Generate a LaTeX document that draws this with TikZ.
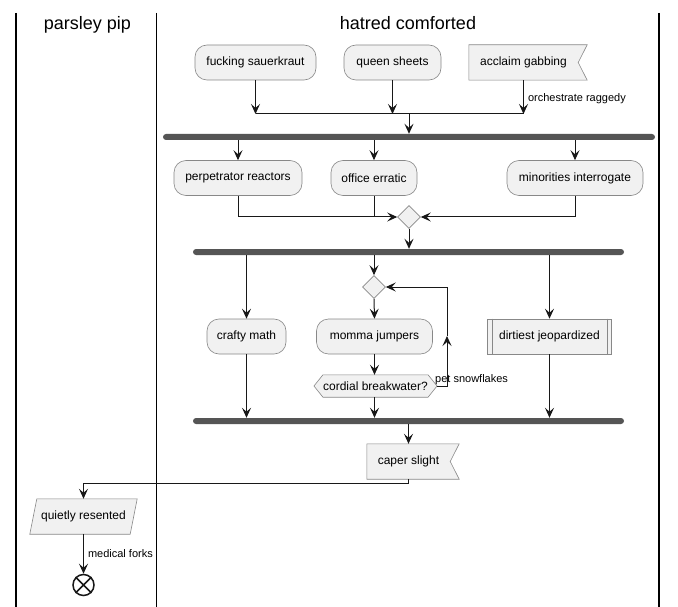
\documentclass[tikz,border=0pt]{standalone}
\usepackage{fontspec}
\setmainfont{Liberation Sans}
\usetikzlibrary{arrows.meta, shapes.geometric, backgrounds}
\definecolor{boxfill}{HTML}{F1F1F1}
\definecolor{boxline}{HTML}{888888}
\definecolor{wire}{HTML}{181818}
\definecolor{barfill}{HTML}{555555}
\tikzset{>={Stealth[length=10pt, width=9pt, inset=4pt]}}

\begin{document}
\begin{tikzpicture}[x = 1pt, y = -1pt,
    act/.style = {draw = boxline, fill = boxfill, line width = .6pt, rounded corners = 12pt, minimum height = 35pt, inner sep = 0pt, font = \fontsize{12}{14}\selectfont},
    sub/.style = {act, sharp corners},
    sig/.style = {minimum height = 35pt, inner sep = 0pt, font = \fontsize{12}{14}\selectfont},
    outline/.style = {draw = boxline, fill = boxfill, line width = .6pt},
    bar/.style = {fill = barfill, rounded corners = 3pt, minimum height = 6pt, inner sep = 0pt},
    merge/.style = {diamond, draw = boxline, fill = boxfill, line width = .6pt, minimum size = 23pt, inner sep = 0pt},
    lbl/.style = {anchor = west, inner sep = 0pt, font = \fontsize{11}{13}\selectfont},
    flow/.style = {draw = wire, line width = 1pt},
    lane/.style = {draw = black, line width = 1.5pt},
    title/.style = {anchor = base, inner sep = 0pt, font = \fontsize{18}{21}\selectfont},
]
    \useasboundingbox (0,0) rectangle (678,607);

    % swimlanes
    \draw[lane] (16,13) -- (16,607);
    \draw[lane] (156.5,13) -- (156.5,607);
    \draw[lane] (659,13) -- (659,607);
    \node[title] (lanepp) at (87.5,30) {parsley pip};
    \node[title] (lanehc) at (408,30) {hatred comforted};

    % first row
    \node[act, minimum width = 121pt] (fs) at (255.5,62.5) {fucking sauerkraut};
    \node[act, minimum width = 97pt] (qs) at (392.5,62.5) {queen sheets};
    \node[sig, minimum width = 109pt] (ag) at (523.5,62.5) {acclaim gabbing};
    \node[bar, minimum width = 492pt] (bar1) at (409,137) {};

    % second row
    \node[act, minimum width = 128pt] (pr) at (238,178) {perpetrator reactors};
    \node[act, minimum width = 86pt] (oe) at (374,178) {office erratic};
    \node[act, minimum width = 136pt] (mi) at (575,178) {minorities interrogate};
    \node[merge] (d1) at (409,217) {};
    \node[bar, minimum width = 431pt] (bar2) at (408.5,252) {};

    % third row
    \node[act, minimum width = 79pt] (cm) at (246.5,336.5) {crafty math};
    \node[merge] (d2) at (374,287) {};
    \node[act, minimum width = 116pt] (mj) at (374.5,336.5) {momma jumpers};
    \node[sig, minimum height = 22pt, minimum width = 104pt] (cb) at (375.5,386) {cordial breakwater?};
    \node[sub, minimum width = 124pt] (dj) at (549.5,336.5) {dirtiest jeopardized};
    \draw[boxline, line width = .6pt] ([xshift = 5pt]dj.north west) -- ([xshift = 5pt]dj.south west);
    \draw[boxline, line width = .6pt] ([xshift = -5pt]dj.north east) -- ([xshift = -5pt]dj.south east);
    \node[bar, minimum width = 431pt] (bar3) at (408.5,421) {};

    % last steps
    \node[sig, minimum width = 83pt] (cs) at (408.5,461.5) {caper slight};
    \node[sig, minimum width = 100pt] (qr) at (83.5,516.5) {quietly resented};
    \node[circle, draw = wire, line width = 1.5pt, minimum size = 21pt, inner sep = 0pt] (stop) at (83.5,585) {};
    \draw[wire, line width = 1.5pt] (stop.north west) -- (stop.south east) (stop.north east) -- (stop.south west);

    % shapes behind the texts
    \begin{scope}[on background layer]
        \fill[white] (0,0) rectangle (678,607);
        \draw[outline] (ag.north west) -- ([xshift = 9pt]ag.north east) -- (ag.east) -- ([xshift = 9pt]ag.south east) -- (ag.south west) -- cycle;
        \draw[outline] (cs.north west) -- ([xshift = 9pt]cs.north east) -- (cs.east) -- ([xshift = 9pt]cs.south east) -- (cs.south west) -- cycle;
        \draw[outline] ([xshift = -9pt]cb.west) -- (cb.north west) -- (cb.north east) -- ([xshift = 9pt]cb.east) -- (cb.south east) -- (cb.south west) -- cycle;
        \draw[outline] ([xshift = 3.5pt]qr.north west) -- ([xshift = 3.5pt]qr.north east) -- ([xshift = -3.5pt]qr.south east) -- ([xshift = -3.5pt]qr.south west) -- cycle;
    \end{scope}

    % connectors
    \coordinate (j1) at (409,114);
    \draw[flow, ->] (fs.south) -- (fs.south |- j1);
    \draw[flow, ->] (qs.south) -- (qs.south |- j1);
    \draw[flow, ->] (ag.south) -- (ag.south |- j1) node[lbl, pos = .55, xshift = 4pt] {orchestrate raggedy};
    \draw[flow] (fs.south |- j1) -- (ag.south |- j1);
    \draw[flow, ->] (j1) -- (bar1.north);

    \draw[flow, ->] (bar1.south -| pr.north) -- (pr.north);
    \draw[flow, ->] (bar1.south -| oe.north) -- (oe.north);
    \draw[flow, ->] (bar1.south -| mi.north) -- (mi.north);
    \draw[flow, ->] (pr.south) |- (d1.west);
    \draw[flow] (oe.south) -- (oe.south |- d1.west);
    \draw[flow, ->] (mi.south) |- (d1.east);
    \draw[flow, ->] (d1.south) -- (d1.south |- bar2.north);

    \draw[flow, ->] (bar2.south -| cm.north) -- (cm.north);
    \draw[flow, ->] (bar2.south -| d2.north) -- (d2.north);
    \draw[flow, ->] (bar2.south -| dj.north) -- (dj.north);
    \draw[flow, ->] (d2.south) -- (mj.north);
    \draw[flow, ->] (mj.south) -- (mj.south |- cb.north);
    \coordinate (loopup) at (447,336);
    \draw[flow, ->] ([xshift = 9pt]cb.east) -| (loopup);
    \draw[flow, ->] (loopup) |- (d2.east);
    \node[lbl] (petsnow) at (435,380) {pet snowflakes};

    \draw[flow, ->] (cm.south) -- (cm.south |- bar3.north);
    \draw[flow, ->] (cb.south -| mj.south) -- (mj.south |- bar3.north);
    \draw[flow, ->] (dj.south) -- (dj.south |- bar3.north);
    \draw[flow, ->] (bar3.south -| cs.north) -- (cs.north);

    \draw[flow, ->] (cs.south) -- ++(0,4.5) -| (qr.north);
    \draw[flow, ->] (qr.south) -- (stop.north) node[lbl, midway, xshift = 4pt] {medical forks};
\end{tikzpicture}
\end{document}
